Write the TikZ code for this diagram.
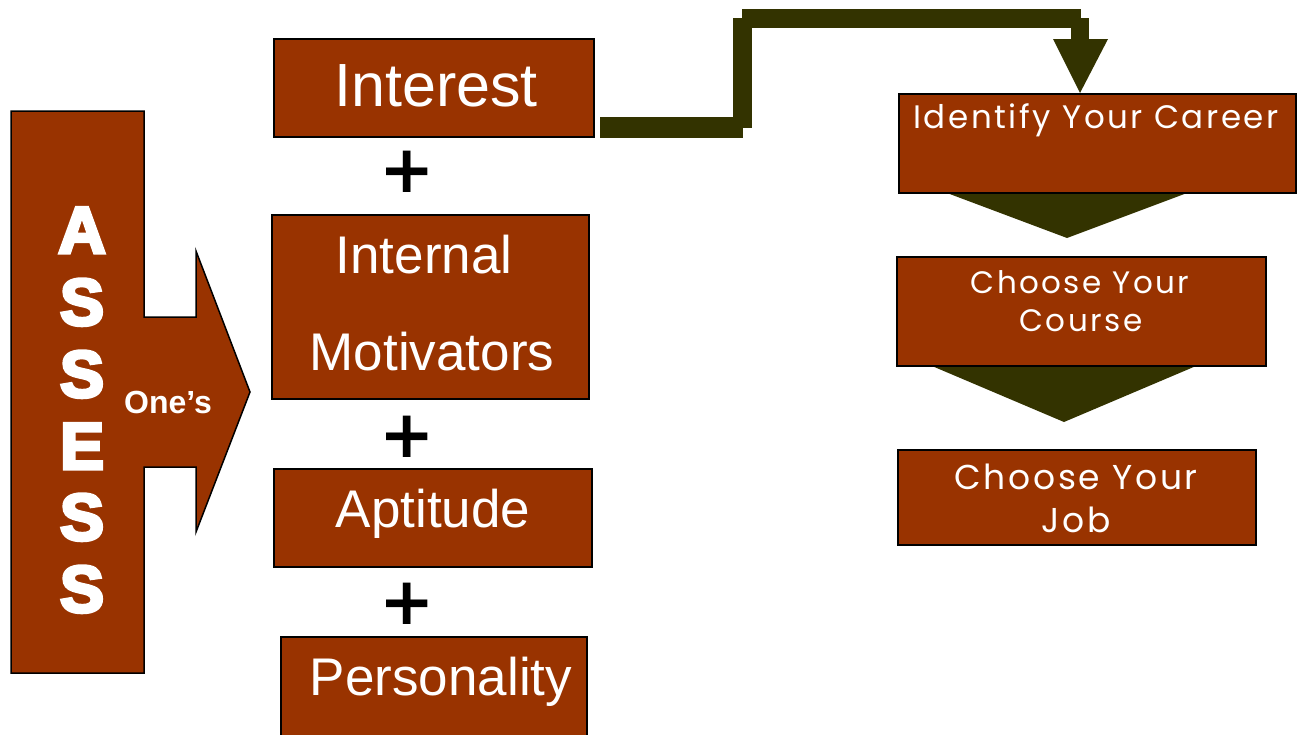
\documentclass[tikz,border=0pt]{standalone}
\usepackage{fontspec}
\setmainfont{Liberation Sans}
\newfontfamily\blackfont{Liberation Sans}[BoldFeatures={FakeBold=5}]
\newfontfamily\rfont{Poppins}[LetterSpace=8]
\newfontfamily\plusfont{DejaVu Sans}
\definecolor{brick}{HTML}{993300}
\definecolor{darkol}{HTML}{333300}
\tikzset{
  box/.style={draw=black, line width=1.5pt, fill=brick, inner sep=0pt, rectangle},
  wtext/.style={text=white, inner sep=0pt, anchor=base},
  plussign/.style={inner sep=0pt, anchor=center, font=\plusfont\bfseries\fontsize{66}{66}\selectfont},
  conn/.style={fill=darkol, draw=none}
}
\begin{document}
\begin{tikzpicture}[x=1pt,y=-1pt]
\useasboundingbox (0,0) rectangle (1301,734);
\fill[white] (0,0) rectangle (1301,734);

% ASSESS arrow shape
\draw[box] (11,111) coordinate (as1) -- (144,111) -- (144,317) -- (196,317) -- (196,251)
  -- (250,392) coordinate (astip) -- (196,532) -- (196,467) -- (144,467) -- (144,673) -- (11,673) -- cycle;
\foreach \l/\yy/\n in {A/253/a1, S/325/a2, S/397/a3, E/469/a4, S/540/a5, S/612/a6}{
  \node[wtext, font=\blackfont\bfseries\fontsize{66}{66}\selectfont] (\n) at (82,\yy) {\l};
}
\node[wtext, font=\bfseries\fontsize{32}{32}\selectfont] (ones) at (168,413) {One’s};

% middle boxes
\node[box, minimum width=320pt, minimum height=98pt] (interest) at (434,88) {};
\node[box, minimum width=317pt, minimum height=184pt] (intmot) at (430.5,307) {};
\node[box, minimum width=318pt, minimum height=98pt] (aptitude) at (433,518) {};
\node[box, minimum width=306pt, minimum height=110pt] (personality) at (434,692) {};

\node[wtext, font=\fontsize{61}{61}\selectfont] (tinterest) at (436,106) {Interest};
\node[wtext, font=\fontsize{53}{53}\selectfont] (tinternal) at (424,273) {Internal};
\node[wtext, font=\fontsize{53}{53}\selectfont] (tmotiv) at (432,370) {Motivators};
\node[wtext, font=\fontsize{53}{53}\selectfont] (taptitude) at (433,527) {Aptitude};
\node[wtext, font=\fontsize{53}{53}\selectfont] (tperson) at (441,695) {Personality};

\node[plussign] (p1) at (407,172) {+};
\node[plussign] (p2) at (407,437) {+};
\node[plussign] (p3) at (407,604) {+};

% right column: down triangles first
\fill[conn] (947,193) -- (1187,193) -- (1067,238) -- cycle;
\fill[conn] (932,366) -- (1196,366) -- (1064,422) -- cycle;

\node[box, minimum width=397pt, minimum height=99pt] (career) at (1097.5,143.5) {};
\node[box, minimum width=369pt, minimum height=109pt] (course) at (1081.5,311.5) {};
\node[box, minimum width=358pt, minimum height=95pt] (job) at (1077,497.5) {};

\node[wtext, font=\rfont\fontsize{32.5}{32.5}\selectfont] (tcareer) at (1096,128) {Identify Your Career};
\node[wtext, font=\rfont\fontsize{31}{31}\selectfont] (tcourse1) at (1080,293) {Choose Your};
\node[wtext, font=\rfont\fontsize{31}{31}\selectfont] (tcourse2) at (1081,331) {Course};
\node[wtext, font=\rfont\fontsize{34.5}{34.5}\selectfont] (tjob1) at (1076,489) {Choose Your};
\node[wtext, font=\rfont\fontsize{34.5}{34.5}\selectfont] (tjob2) at (1076,532) {Job};

% stepped connector from Interest to Identify Your Career
\fill[conn] (600,117) rectangle (743,138);
\fill[conn] (733,18) rectangle (752,128);
\fill[conn] (742,9) rectangle (1081,28);
\fill[conn] (1071,18) rectangle (1089,39);
\fill[conn] (1053,39) -- (1108,39) -- (1080,93) -- cycle;
\end{tikzpicture}
\end{document}
